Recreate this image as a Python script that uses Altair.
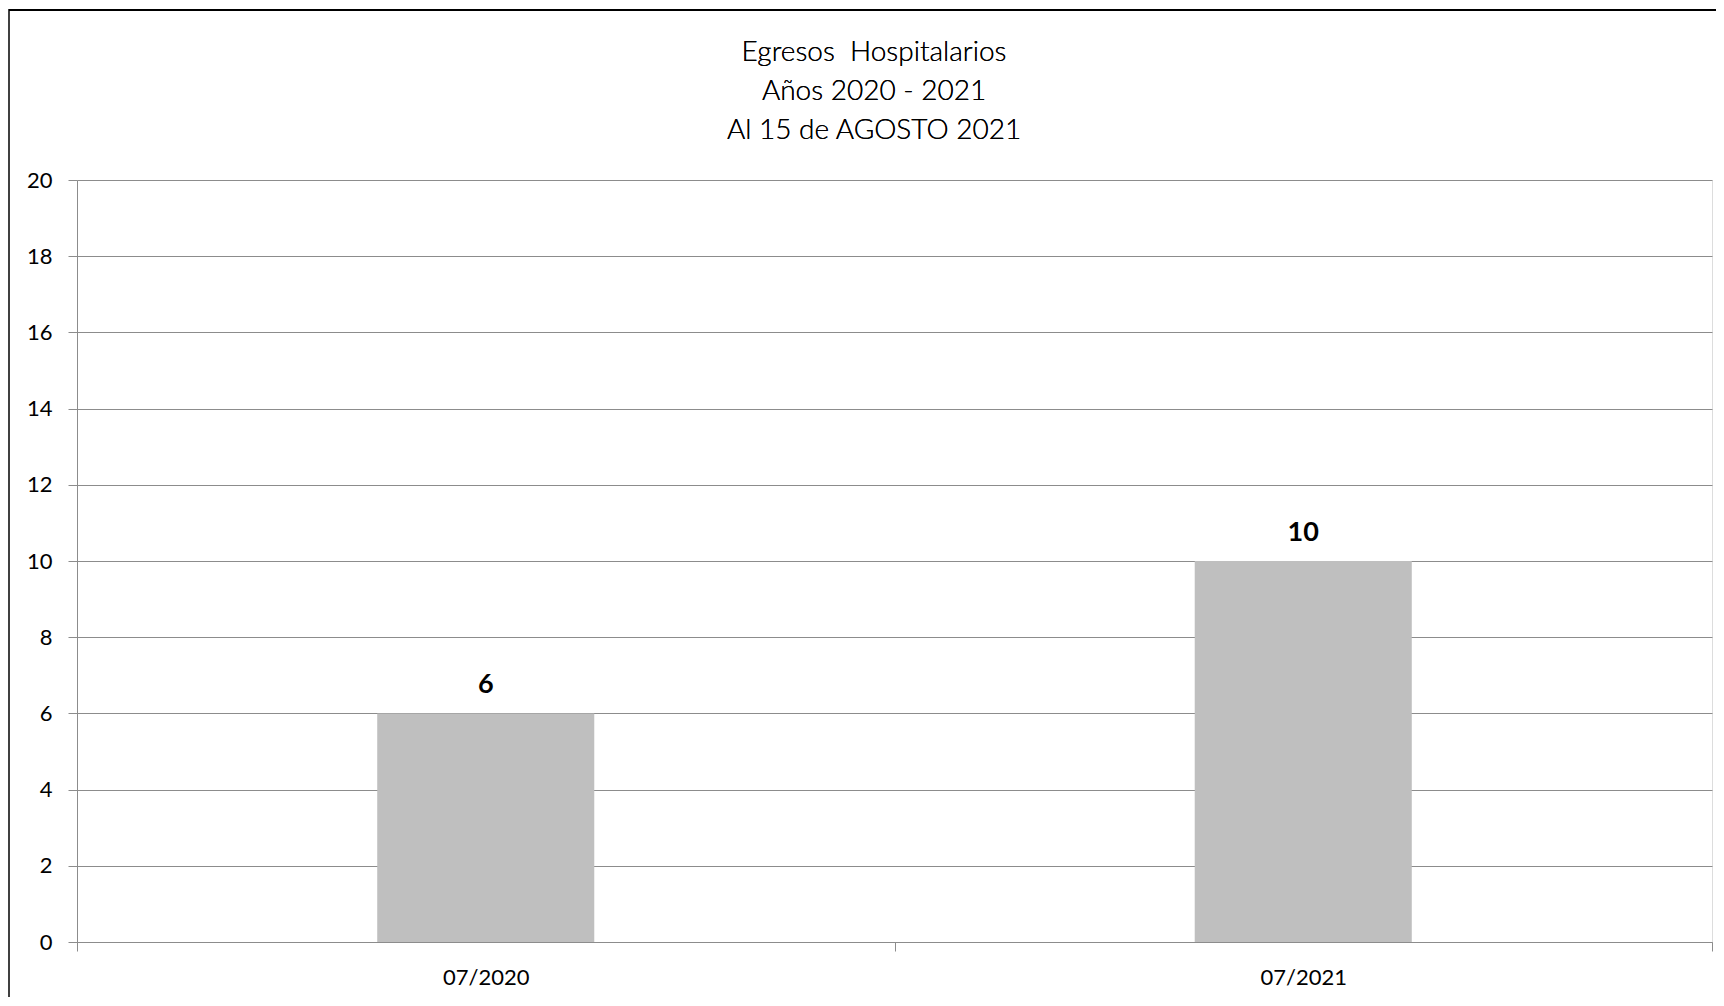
import altair as alt
import pandas as pd

categories = ["07/2020", "07/2021"]
values = [6, 10]
title_lines = ["Egresos \u00a0Hospitalarios", "Años 2020 - 2021", "Al 15 de AGOSTO 2021"]
y_ticks = [0, 2, 4, 6, 8, 10, 12, 14, 16, 18, 20]

df = pd.DataFrame({"periodo": categories, "egresos": values})

FONT = "Lato"
GRID = "#8c8c8c"

x_enc = alt.X(
    "periodo:N",
    sort=categories,
    title=None,
    scale=alt.Scale(paddingInner=0, paddingOuter=0),
    axis=alt.Axis(
        labelAngle=0,
        labelFont=FONT,
        labelFontSize=22,
        labelColor="#000000",
        labelPadding=16,
        tickBand="extent",
        tickSize=9,
        tickColor=GRID,
        domainColor=GRID,
        grid=False,
    ),
)

y_enc = alt.Y(
    "egresos:Q",
    title=None,
    scale=alt.Scale(domain=[0, 20], nice=False),
    axis=alt.Axis(
        values=y_ticks,
        labelFont=FONT,
        labelFontSize=22,
        labelColor="#000000",
        labelPadding=16,
        tickSize=9,
        tickColor=GRID,
        domainColor=GRID,
        gridColor=GRID,
        gridWidth=1,
    ),
)

bars = alt.Chart(df).mark_bar(
    color="#bfbfbf", width=alt.RelativeBandSize(0.2655)
).encode(x=x_enc, y=y_enc)

labels = alt.Chart(df).mark_text(
    font=FONT, fontSize=27, fontWeight="bold", color="#000000", dy=-28, baseline="middle"
).encode(x=alt.X("periodo:N", sort=categories), y="egresos:Q", text="egresos:Q")

title = alt.Chart(df).mark_text(
    font=FONT, fontSize=28, fontWeight=300, color="#000000", align="center",
    baseline="middle", lineHeight=39
).encode(x=alt.value(797), y=alt.value(-127), text=alt.value(title_lines))

frame_left = alt.Chart(df).mark_rule(color="#404040", strokeWidth=2).encode(
    x=alt.value(-68), y=alt.value(-171), y2=alt.value(900)
)
frame_top = alt.Chart(df).mark_rule(color="#000000", strokeWidth=2).encode(
    x=alt.value(-68), x2=alt.value(1700), y=alt.value(-170)
)

chart = (
    alt.layer(bars, labels, title, frame_left, frame_top)
    .properties(
        width=1635,
        height=762,
        autosize=alt.AutoSizeParams(type="none"),
        padding={"left": 69, "top": 172, "right": 4, "bottom": 55},
    )
    .configure_view(strokeWidth=0)
    .configure(background="#ffffff")
)

chart.save("out.html", embed_options={"renderer": "svg", "actions": False})
